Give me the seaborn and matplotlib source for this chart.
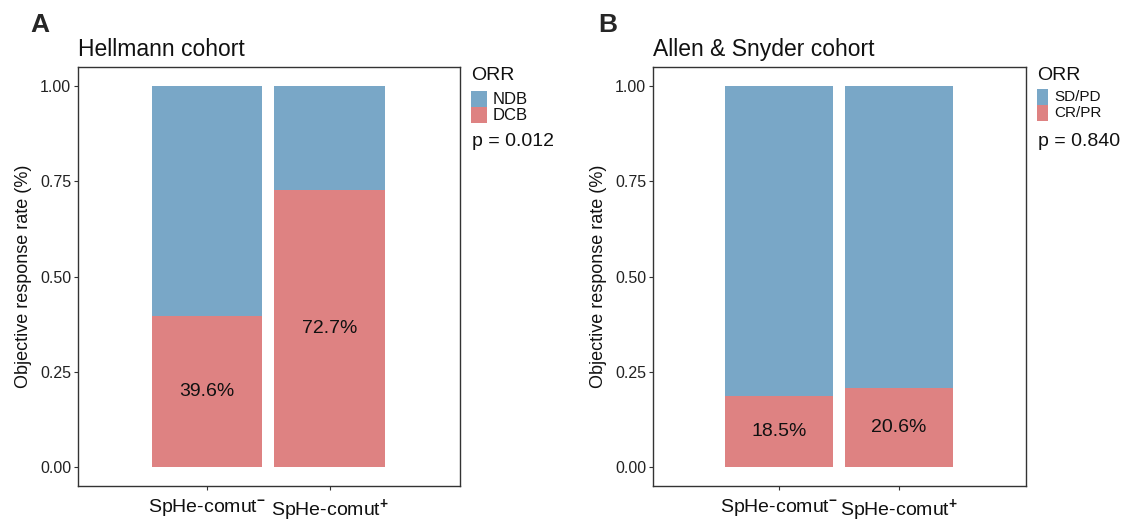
import matplotlib
matplotlib.use("Agg")
import matplotlib.pyplot as plt
from matplotlib.patches import Rectangle
import pandas as pd
import seaborn as sns

# --- data ---
groups = [r"SpHe-comut$^{\mathbf{-}}$", r"SpHe-comut$^{\mathbf{+}}$"]

hell_titles = "Hellmann cohort"
hell_resp = [0.396, 0.727]          # DCB fraction
hell_labels = ["NDB", "DCB"]
hell_p = "p = 0.012"

allen_titles = "Allen & Snyder cohort"
allen_resp = [0.185, 0.206]         # CR/PR fraction
allen_labels = ["SD/PD", "CR/PR"]
allen_p = "p = 0.840"

BLUE = "#79A7C7"
RED = "#DE8282"
W, H = 1128, 522

sns.set_theme(style="white")
plt.rcParams["font.family"] = ["Liberation Sans", "DejaVu Sans"]
plt.rcParams["mathtext.fontset"] = "custom"
plt.rcParams["mathtext.rm"] = "Liberation Sans"
plt.rcParams["mathtext.it"] = "Liberation Sans"
plt.rcParams["mathtext.bf"] = "Liberation Sans:bold"

fig = plt.figure(figsize=(W / 100, H / 100), dpi=100)
ax_a = fig.add_axes([0.0691, 0.069, 0.3387, 0.8026])
ax_b = fig.add_axes([0.5789, 0.069, 0.3307, 0.8026])


def fx(px):
    return px / W


def fy(py):
    return 1 - py / H


def legend_block(x0, labels, key_w, key_h, key_top, lab_size, ptxt):
    # ORR legend + p value, positioned in figure pixels
    fig.text(fx(x0), fy(75), "ORR", fontsize=14, va="center", ha="left",
             color="#111111")
    for k, (lab, col) in enumerate(zip(labels, [BLUE, RED])):
        top = key_top + k * key_h
        fig.add_artist(Rectangle((fx(x0), fy(top + key_h)), key_w / W, key_h / H,
                                 transform=fig.transFigure, color=col, lw=0))
        fig.text(fx(x0 + key_w + 6), fy(top + key_h / 2), lab, fontsize=lab_size,
                 va="center", ha="left", color="#111111")
    fig.text(fx(x0 + 1), fy(141), ptxt, fontsize=14, va="center", ha="left",
             color="#111111")


def draw_panel(ax, resp, title, letter, lx):
    df = pd.DataFrame({"group": groups, "resp": resp, "total": [1.0] * len(groups)})
    sns.barplot(data=df, x="group", y="total", color=BLUE, width=0.9,
                saturation=1, ax=ax, edgecolor="none")
    sns.barplot(data=df, x="group", y="resp", color=RED, width=0.9,
                saturation=1, ax=ax, edgecolor="none")
    for i, v in enumerate(resp):
        ax.text(i, v / 2, f"{v * 100:.1f}%", ha="center", va="center",
                fontsize=14, color="#111111")

    ax.set_xlim(-1.05, 2.06)
    ax.set_ylim(-0.05, 1.05)
    ax.set_yticks([0, 0.25, 0.5, 0.75, 1.0])
    ax.set_yticklabels(["0.00", "0.25", "0.50", "0.75", "1.00"])
    ax.tick_params(axis="y", labelsize=11.5, length=3, width=0.8, color="#333333",
                   left=True, pad=2, labelcolor="#222222")
    ax.tick_params(axis="x", labelsize=14, length=3, width=0.8, color="#333333",
                   bottom=True, pad=5, labelcolor="#111111")
    ax.set_xlabel("")
    ax.set_ylabel("Objective response rate (%)", fontsize=13, color="#111111",
                  labelpad=6)
    for s in ax.spines.values():
        s.set_visible(True)
        s.set_color("#333333")
        s.set_linewidth(1.0)
    ax.set_title(title, loc="left", fontsize=16.5, pad=8, color="#111111")
    fig.text(lx, fy(32), letter, fontsize=19, fontweight="bold",
             va="baseline", ha="left")


draw_panel(ax_a, hell_resp, hell_titles, "A", fx(30))
draw_panel(ax_b, allen_resp, allen_titles, "B", fx(598))

legend_block(471, hell_labels, 16, 16, 91, 12, hell_p)
legend_block(1037, allen_labels, 11, 16, 89, 11, allen_p)

fig.savefig("out.png", dpi=100)
